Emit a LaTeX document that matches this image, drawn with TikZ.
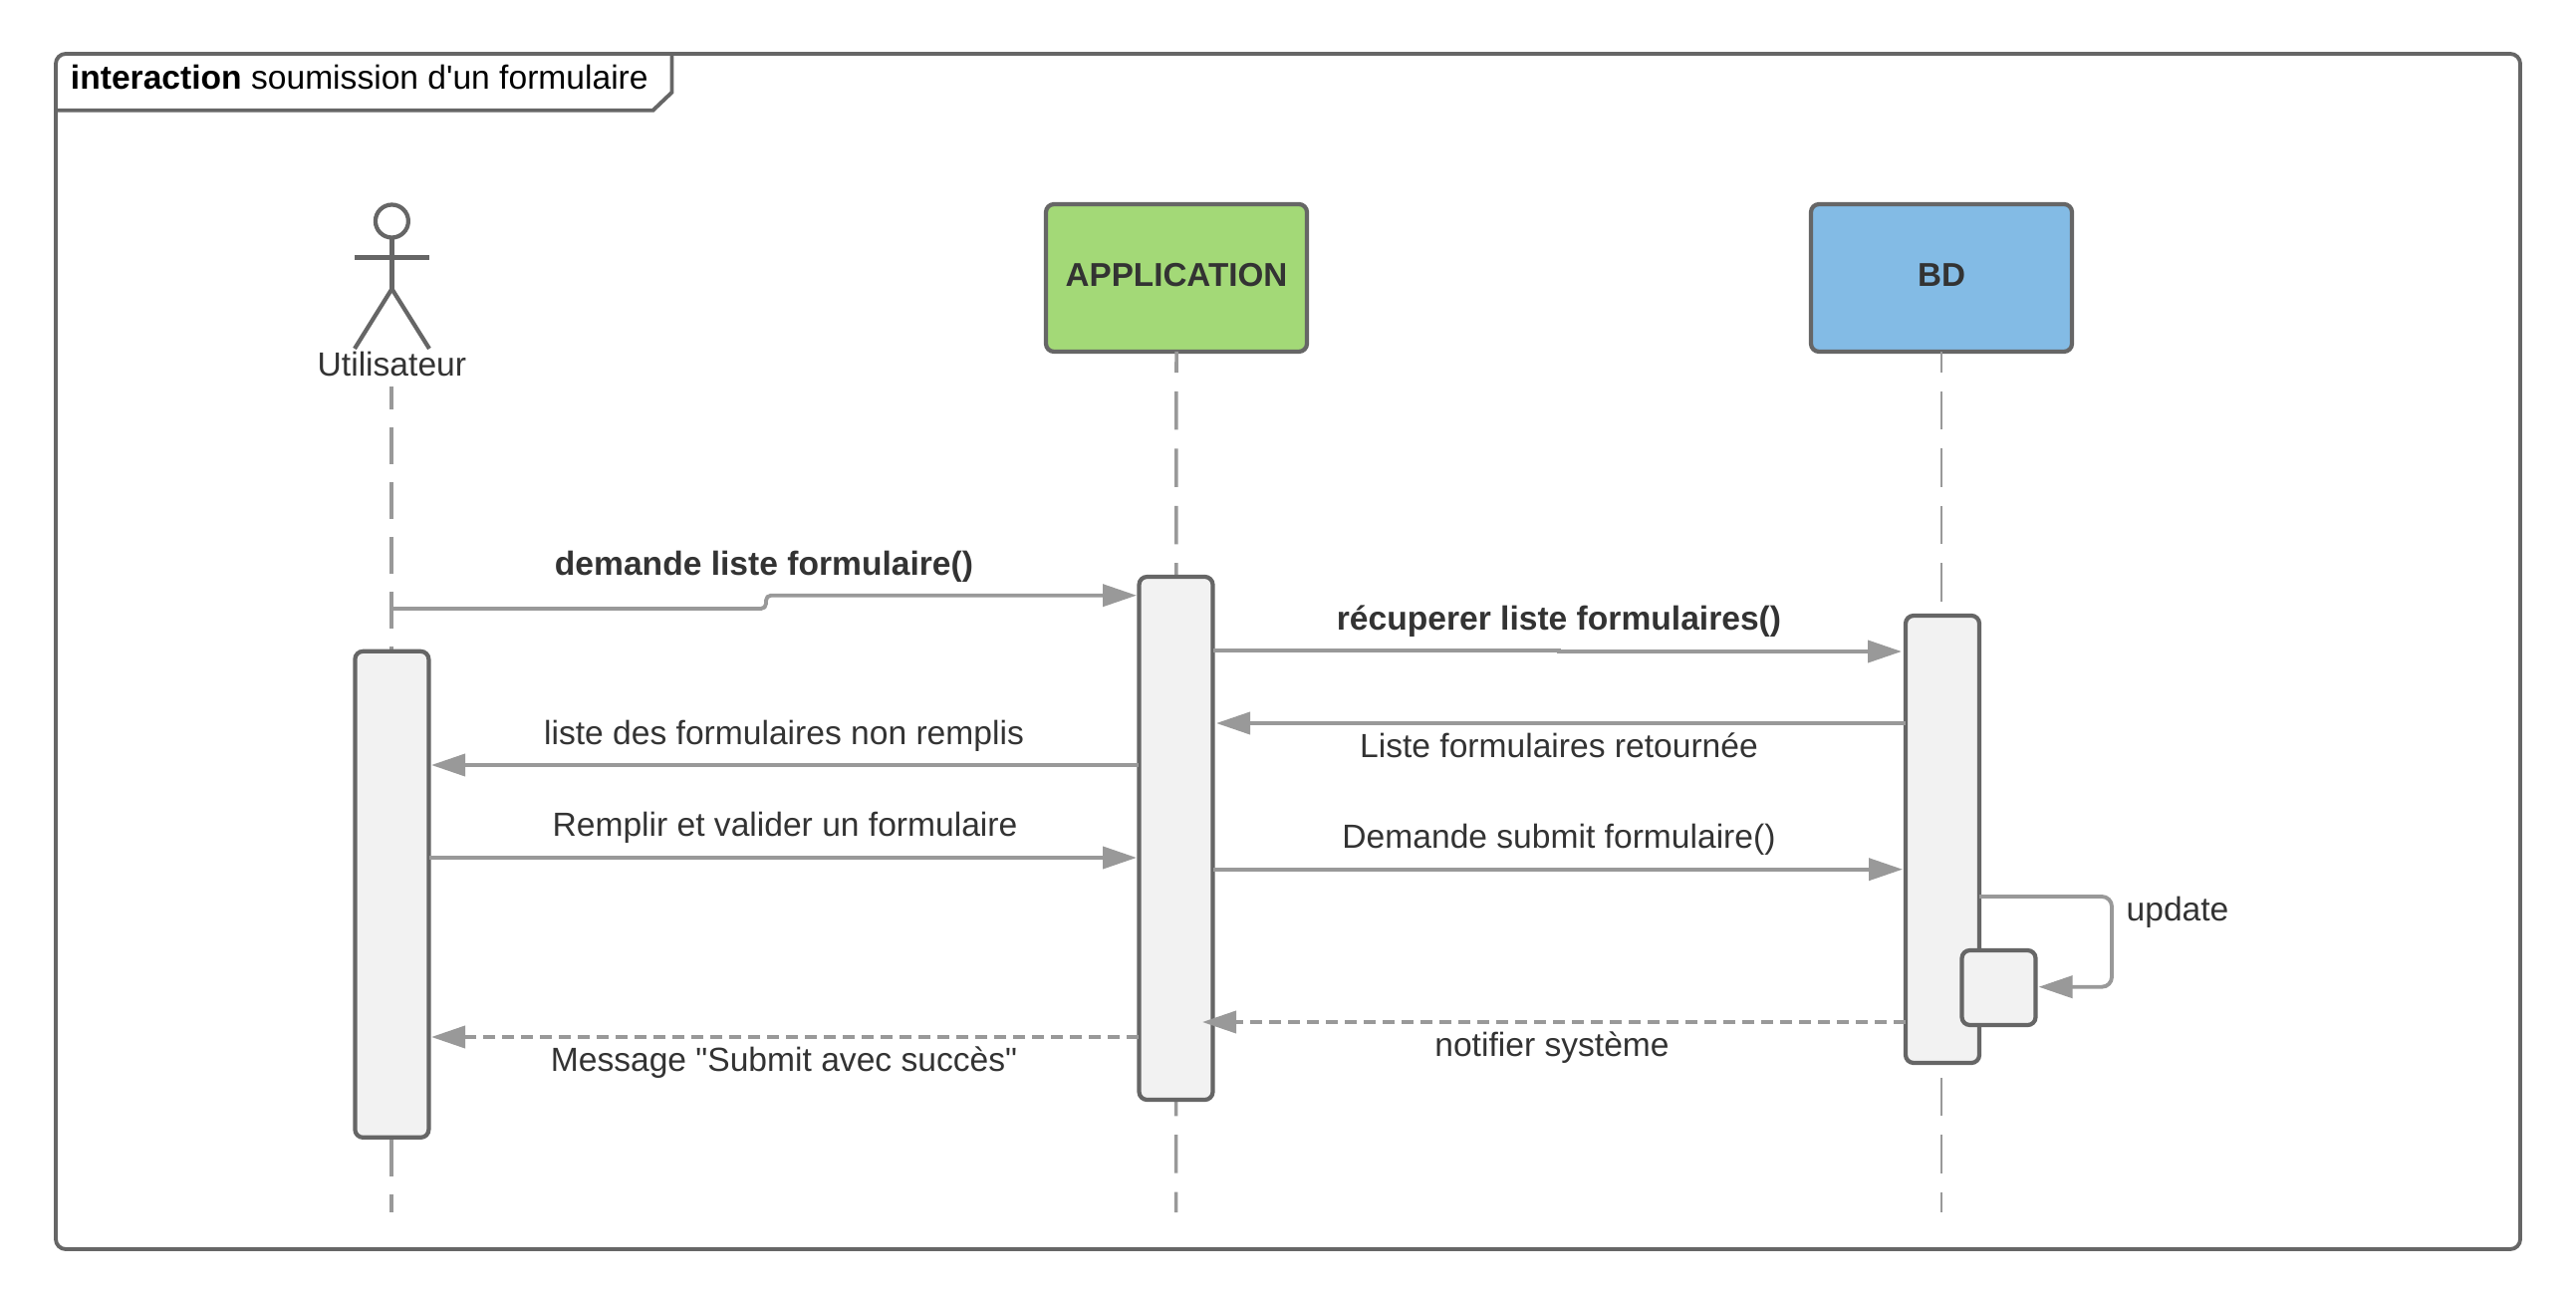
\documentclass[tikz,border=0pt]{standalone}
\usepackage{fontspec}
\newfontfamily\diagramfont{Liberation Sans}
\usetikzlibrary{arrows.meta}
\definecolor{linegrey}{HTML}{999999}
\definecolor{boxgrey}{HTML}{666666}
\definecolor{textgrey}{HTML}{333333}
\definecolor{actfill}{HTML}{F2F2F2}
\definecolor{appgreen}{HTML}{A3D977}
\definecolor{bdblue}{HTML}{83BBE5}
\tikzset{
	every node/.style={inner sep=0pt,outer sep=0pt,font=\diagramfont\fontsize{9.56}{11}\selectfont},
	frame-box/.style={shape=rectangle,draw=boxgrey,line width=1.1pt,rounded corners=.1cm,minimum width=24.74cm,minimum height=12cm},
	frame-line/.style={draw=boxgrey,line width=1.1pt},
	object-box/.style={shape=rectangle,draw=boxgrey,line width=1.2pt,rounded corners=.08cm,minimum width=2.62cm,minimum height=1.48cm},
	act-box/.style={shape=rectangle,draw=boxgrey,fill=actfill,line width=1.2pt,rounded corners=.08cm,minimum width=.74cm},
	stick/.style={draw=boxgrey,line width=1.2pt},
	lbl/.style={anchor=base,text=textgrey},
	title-lbl/.style={anchor=base,text=textgrey,font=\diagramfont\fontsize{9.56}{11}\selectfont\bfseries},
}
\tikzstyle{msg} = [draw=linegrey,line width=1.1pt,-{Triangle[length=.34cm,width=.22cm]}]
\tikzstyle{reply} = [msg,dash pattern=on .12cm off .07cm]
\tikzstyle{lifeline} = [draw=linegrey,line width=.9pt]

\begin{document}
\begin{tikzpicture}
	\useasboundingbox (0,0) rectangle (25.86,13.01);

	% frame and its tab
	\node[frame-box] (frame) at (12.93,6.47) {};
	\coordinate (tabA) at (.56,11.903);
	\coordinate (tabB) at (6.556,11.903);
	\coordinate (tabC) at (6.745,12.083);
	\coordinate (tabD) at (6.745,12.47);
	\draw[frame-line] (tabA) -- (tabB) -- (tabC) -- (tabD);
	\node[anchor=base west] (tabtext) at (.71,12.115) {\textbf{interaction} soumission d'un formulaire};

	% actor
	\node[shape=circle,draw=boxgrey,line width=1.2pt,minimum size=.33cm] (head) at (3.934,10.79) {};
	\coordinate (armL) at (3.56,10.424);
	\coordinate (armR) at (4.31,10.424);
	\coordinate (hip) at (3.934,10.11);
	\coordinate (footL) at (3.56,9.51);
	\coordinate (footR) at (4.31,9.51);
	\draw[stick] (head) -- (hip);
	\draw[stick] (armL) -- (armR);
	\draw[stick] (footL) -- (hip) -- (footR);
	\node[lbl] (actor) at (3.934,9.233) {Utilisateur};

	% objects
	\node[object-box,fill=appgreen] (app) at (11.81,10.22) {};
	\node[object-box,fill=bdblue] (bd) at (19.49,10.22) {};
	\node[title-lbl,font=\diagramfont\fontsize{9.45}{11}\selectfont\bfseries] (apptext) at (11.81,10.135) {APPLICATION};
	\node[title-lbl,font=\diagramfont\fontsize{9.45}{11}\selectfont\bfseries] (bdtext) at (19.49,10.135) {BD};

	% lifelines
	\coordinate (actortop) at (3.93,9.133);
	\coordinate (actorend) at (3.93,.84);
	\coordinate (append) at (11.805,.84);
	\coordinate (bdend) at (19.49,.84);
	\coordinate (actbottom) at (3.93,1.58);
	\coordinate (actupper) at (3.93,6.48);
	\path[lifeline,line width=1pt,dash pattern=on .37cm off .18cm,dash phase=.137cm] (actortop) edge (actupper);
	\path[lifeline,line width=1pt,dash pattern=on .38cm off .18cm] (actbottom) edge (actorend);
	\path[lifeline,line width=1pt,dash pattern=on .385cm off .189cm,dash phase=.174cm] (app.south) edge (append);
	\path[lifeline,line width=.8pt,dash pattern=on .385cm off .189cm,dash phase=.174cm] (bd.south) edge (bdend);

	% activations
	\node[act-box,minimum height=4.88cm] (actact) at (3.934,4.0315) {};
	\node[act-box,minimum height=5.25cm] (appact) at (11.805,4.595) {};
	\node[act-box,minimum height=4.49cm] (bdact) at (19.50,4.585) {};
	\node[act-box,minimum height=.75cm] (selfact) at (20.065,3.095) {};

	% messages
	\coordinate (m1a) at (3.93,6.90);
	\coordinate (m1b) at (7.69,6.90);
	\coordinate (m1c) at (7.69,7.033);
	\coordinate (m1d) at (11.41,7.033);
	\draw[msg,rounded corners=.05cm] (m1a) -- (m1b) -- (m1c) -- (m1d);
	\coordinate (m2a) at (12.18,6.483);
	\coordinate (m2b) at (15.65,6.483);
	\coordinate (m2c) at (15.65,6.47);
	\coordinate (m2d) at (19.09,6.47);
	\draw[msg] (m2a) -- (m2b) -- (m2c) -- (m2d);
	\coordinate (m3a) at (19.13,5.75);
	\coordinate (m3b) at (12.21,5.75);
	\draw[msg] (m3a) -- (m3b);
	\coordinate (m4a) at (11.43,5.33);
	\coordinate (m4b) at (4.33,5.33);
	\draw[msg] (m4a) -- (m4b);
	\coordinate (m5a) at (4.31,4.40);
	\coordinate (m5b) at (11.41,4.40);
	\draw[msg] (m5a) -- (m5b);
	\coordinate (m6a) at (12.18,4.283);
	\coordinate (m6b) at (19.10,4.283);
	\draw[msg] (m6a) -- (m6b);
	\coordinate (m7a) at (19.87,4.01);
	\coordinate (m7b) at (21.20,4.01);
	\coordinate (m7c) at (21.20,3.103);
	\coordinate (m7d) at (20.465,3.103);
	\draw[msg,rounded corners=.1cm] (m7a) -- (m7b) -- (m7c) -- (m7d);
	\coordinate (m8a) at (19.13,2.75);
	\coordinate (m8b) at (12.07,2.75);
	\draw[reply] (m8a) -- (m8b);
	\coordinate (m9a) at (11.43,2.60);
	\coordinate (m9b) at (4.33,2.60);
	\draw[reply] (m9a) -- (m9b);

	% message labels
	\node[title-lbl] (l1) at (7.67,7.235) {demande liste formulaire()};
	\node[title-lbl] (l2) at (15.65,6.687) {récuperer liste formulaires()};
	\node[lbl] (l3) at (15.65,5.405) {Liste formulaires retournée};
	\node[lbl] (l4) at (7.87,5.54) {liste des formulaires non remplis};
	\node[lbl] (l5) at (7.88,4.62) {Remplir et valider un formulaire};
	\node[lbl] (l6) at (15.65,4.493) {Demande submit formulaire()};
	\node[lbl] (l7) at (21.86,3.77) {update};
	\node[lbl] (l8) at (15.58,2.403) {notifier système};
	\node[lbl] (l9) at (7.87,2.26) {Message "Submit avec succès"};
\end{tikzpicture}
\end{document}
